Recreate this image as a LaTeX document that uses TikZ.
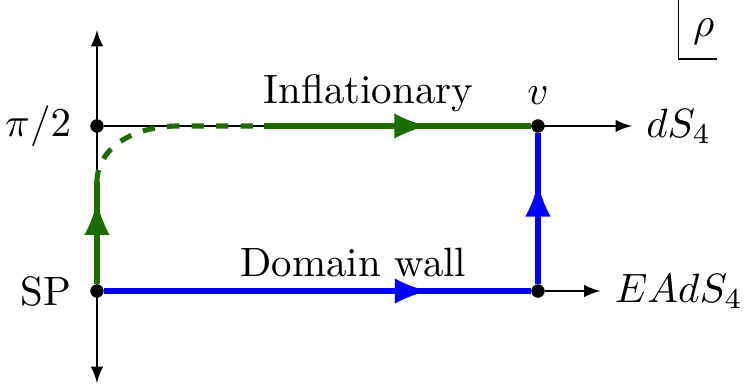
\documentclass[tikz,border=0pt]{standalone}
\usetikzlibrary{decorations.markings}

\definecolor{infgreen}{RGB}{28,108,0}

\tikzset{
dot/.style={
circle,
fill=black,
inner sep=0pt,
minimum size=3.2pt
},
flow/.style={
line width=1.25pt,
postaction={decorate},
decoration={markings, mark=at position #1 with {\arrow[scale=1.25]{latex}}}
}
}

\begin{document}
\begin{tikzpicture}

\useasboundingbox (-0.832,-0.807) rectangle (5.586,2.497);

\node[dot, label={[label distance=1pt]left:SP}] (o) at (0,0) {};
\node[dot, label={[label distance=1pt]left:$\pi/2$}] (p) at (0,1.416) {};
\node[dot, label={above:$v$}] (v) at (3.784,1.416) {};
\node[dot] (e) at (3.784,0) {};

\coordinate (ytop) at (0,2.24);
\coordinate (ybot) at (0,-0.79);
\coordinate (dstip) at (4.59,1.416);
\coordinate (eadstip) at (4.32,0);

% axes
\draw[latex-latex] (ybot) -- (ytop);
\draw[-latex] (p) -- (dstip) node[right] {$dS_4$};
\draw[-latex] (e) -- (eadstip) node[right] {$EAdS_4$};

% inflationary path
\coordinate (gbend) at (0,0.935);
\coordinate (gflat) at (0.7,1.416);
\coordinate (gsolid) at (1.43,1.416);
\draw[infgreen, flow=0.81] (o) -- (gbend);
\draw[infgreen, line width=1.25pt, dashed] (gbend) .. controls (0,1.22) and (0.3,1.416) .. (gflat) -- (gsolid);
\draw[infgreen, flow=0.615] (gsolid) -- (v);
\node[above] at (2.33,1.416) {Inflationary};

% domain wall path
\draw[blue, flow=0.76] (o) -- (e);
\draw[blue, flow=0.67] (e) -- (v);
\node[above] at (2.2,0) {Domain wall};

% redraw dots on top
\foreach \n in {o,p,v,e}
\node[dot] at (\n) {};

% variable box
\draw (4.99,2.497) |- (5.32,1.99);
\node[anchor=south west] (rho) at (4.99,1.99) {$\rho$};

\end{tikzpicture}
\end{document}
